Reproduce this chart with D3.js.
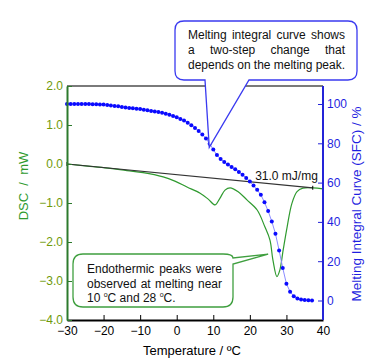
<!DOCTYPE html>
<html>
<head>
<meta charset="utf-8">
<script src="https://cdn.jsdelivr.net/npm/d3@7"></script>
<style>
  body { margin: 0; background: #fff; }
  svg { display: block; font-family: "Liberation Sans", Arial, sans-serif; }
</style>
</head>
<body>
<div id="graph"></div>
<script>
// DSC trace (green)
const dscTemp = [-30, -23.7, -18.2, -13.6, -9.2, -3.7, -0.5, 2.8, 6.4, 8.6, 10.5, 11.8, 13.2, 14.6, 16.8, 19.2, 22.0, 24.1, 25.5, 26.3, 27.4, 28.2, 29.1, 30.2, 31.5, 32.9, 34.5, 37.3, 40]
const dscValue = [0.0, -0.06, -0.11, -0.17, -0.22, -0.33, -0.44, -0.59, -0.75, -0.9, -1.05, -0.88, -0.67, -0.61, -0.71, -0.92, -1.18, -1.61, -1.95, -2.46, -2.89, -2.72, -2.21, -1.61, -1.01, -0.71, -0.62, -0.61, -0.64]

// melting integral curve (blue dots)
const sfcTemp = [-30, -29, -28, -27, -26, -25, -24, -23, -22, -21, -20, -19, -18, -17, -16, -15, -14, -13, -12, -11, -10, -9, -8, -7, -6, -5, -4, -3, -2, -1, 0, 1, 2, 3, 4, 5, 6, 7, 8, 9, 10, 11, 12, 13, 14, 15, 16, 17, 18, 19, 20, 21, 22, 23, 24, 25, 26, 27, 28, 29, 30, 31, 32, 33, 34, 35, 36, 37]
const sfcValue = [100, 100, 100, 100, 100, 100, 100, 99.9, 99.9, 99.8, 99.7, 99.5, 99.3, 99.0, 98.8, 98.5, 98.2, 98.0, 97.8, 97.6, 97.4, 97.1, 96.8, 96.5, 96.2, 95.9, 95.5, 95.0, 94.5, 93.9, 93.2, 92.4, 91.6, 90.5, 89.2, 87.8, 86.3, 84.5, 82.5, 79.8, 76.8, 74.0, 72.0, 70.5, 69.2, 68.0, 66.8, 65.4, 64.0, 62.4, 60.5, 58.5, 56.3, 53.8, 50.0, 45.5, 40.2, 34.0, 25.5, 16.5, 8.5, 4.5, 2.2, 1.0, 0.5, 0.2, 0.1, 0]

// integration baseline
const baseTemp = [-30, 37.2]
const baseValue = [0.0, -0.61]
const enthalpyLabel = "31.0 mJ/mg"

const xTicks = [-30, -20, -10, 0, 10, 20, 30, 40]
const yTicks = [-4, -3, -2, -1, 0, 1, 2]
const sfcTicks = [0, 20, 40, 60, 80, 100]

const topNote = ["Melting integral curve shows", "a two-step change that", "depends on the melting peak."]
const bottomNote = ["Endothermic peaks were", "observed at melting near"]

let dimensions = {
    width: 374,
    height: 362,
    margin: {
        top: 86,
        right: 51,
        bottom: 42,
        left: 67,
    },
}
dimensions.boundedWidth = dimensions.width
    - dimensions.margin.left
    - dimensions.margin.right
dimensions.boundedHeight = dimensions.height
    - dimensions.margin.top
    - dimensions.margin.bottom

const wrapper = d3.select("#graph")
    .append("svg")
    .attr("width", dimensions.width)
    .attr("height", dimensions.height)

const bounds = wrapper.append("g")
    .attr("transform", `translate(${dimensions.margin.left},${dimensions.margin.top})`)

// scales
const xScale = d3.scaleLinear()
    .domain([-30, 40])
    .range([0, dimensions.boundedWidth])
const yScale = d3.scaleLinear()
    .domain([-4, 2])
    .range([dimensions.boundedHeight, 0])
const sfcScale = d3.scaleLinear()
    .domain([0, 100])
    .range([214.5, 18])

const dsc = dscTemp.map((t, i) => ({ t, v: dscValue[i] }))
const sfc = sfcTemp.map((t, i) => ({ t, v: sfcValue[i] }))
const base = baseTemp.map((t, i) => ({ t, v: baseValue[i] }))

// top frame line
bounds.append("line")
    .attr("x1", 0).attr("x2", dimensions.boundedWidth)
    .attr("y1", 0).attr("y2", 0)
    .attr("stroke", "#7a7a7a")
    .attr("stroke-width", 2)

// DSC curve
const dscLine = d3.line()
    .x(d => xScale(d.t))
    .y(d => yScale(d.v))
    .curve(d3.curveCatmullRom.alpha(0.5))

bounds.append("path")
    .attr("d", dscLine(dsc))
    .attr("fill", "none")
    .attr("stroke", "#2f9a2f")
    .attr("stroke-width", 1.2)

// baseline
bounds.append("path")
    .attr("d", d3.line().x(d => xScale(d.t)).y(d => yScale(d.v))(base))
    .attr("fill", "none")
    .attr("stroke", "#333")
    .attr("stroke-width", 1.2)

bounds.selectAll(".baseTick")
    .data(base)
    .enter()
    .append("line")
    .attr("x1", d => xScale(d.t)).attr("x2", d => xScale(d.t))
    .attr("y1", d => yScale(d.v) - 2).attr("y2", d => yScale(d.v) + 2)
    .attr("stroke", "#000")
    .attr("stroke-width", 1)

bounds.append("text")
    .attr("x", xScale(38.6))
    .attr("y", yScale(-0.41))
    .attr("text-anchor", "end")
    .attr("font-size", "12px")
    .attr("fill", "#111")
    .text(enthalpyLabel)

// melting integral curve
bounds.append("path")
    .attr("d", d3.line().x(d => xScale(d.t)).y(d => sfcScale(d.v))(sfc))
    .attr("fill", "none")
    .attr("stroke", "#8c8cff")
    .attr("stroke-width", 1)

bounds.selectAll("circle")
    .data(sfc)
    .enter()
    .append("circle")
    .attr("cx", d => xScale(d.t))
    .attr("cy", d => sfcScale(d.v))
    .attr("r", 2)
    .attr("fill", "#0a0aff")

// axes
const xAxis = bounds.append("g")
    .attr("transform", `translate(0,${dimensions.boundedHeight})`)
    .call(d3.axisBottom(xScale).tickValues(xTicks).tickSizeInner(-5).tickSizeOuter(0).tickPadding(6))
xAxis.select(".domain").attr("stroke", "#000").attr("stroke-width", 2)
xAxis.selectAll(".tick line").attr("stroke", "#000")
xAxis.selectAll("text").attr("font-size", "12px").attr("fill", "#000").attr("font-family", null)

const yAxis = bounds.append("g")
    .call(d3.axisLeft(yScale).tickValues(yTicks).tickFormat(d3.format(".1f")).tickSizeInner(-5).tickSizeOuter(0).tickPadding(4))
yAxis.select(".domain").attr("stroke", "#2d7a2d").attr("stroke-width", 2)
yAxis.selectAll(".tick line").attr("stroke", "#2d7a2d")
yAxis.selectAll("text").attr("font-size", "12px").attr("fill", "#6f9a0a").attr("font-family", null)

const rightAxis = bounds.append("g")
    .attr("transform", `translate(${dimensions.boundedWidth},0)`)
    .call(d3.axisRight(sfcScale).tickValues(sfcTicks).tickSizeInner(-5).tickSizeOuter(0).tickPadding(4))
rightAxis.select(".domain").remove()
rightAxis.append("line")
    .attr("y1", 0).attr("y2", dimensions.boundedHeight)
    .attr("stroke", "#2424d8")
    .attr("stroke-width", 2)
rightAxis.selectAll(".tick line").attr("stroke", "#2424d8")
rightAxis.selectAll("text").attr("font-size", "12px").attr("fill", "#1f1fe0").attr("font-family", null)

// axis titles
wrapper.append("text")
    .attr("x", dimensions.margin.left + dimensions.boundedWidth / 2 - 3)
    .attr("y", 355)
    .attr("text-anchor", "middle")
    .attr("font-size", "13px")
    .attr("fill", "#000")
    .text("Temperature / ºC")

wrapper.append("text")
    .attr("transform", "translate(28,186) rotate(-90)")
    .attr("text-anchor", "middle")
    .attr("font-size", "13px")
    .attr("fill", "#2e9a2e")
    .style("white-space", "pre")
    .text("DSC  /  mW")

wrapper.append("text")
    .attr("transform", "translate(361,204) rotate(-90)")
    .attr("text-anchor", "middle")
    .attr("font-size", "13.5px")
    .attr("fill", "#1f1fe0")
    .text("Melting Integral Curve (SFC) / %")

// justified text helper
const justify = (g, lines, x0, x1, y0, lh) => {
    lines.forEach((line, li) => {
        const words = line.split(" ")
        const nodes = words.map(w => g.append("text")
            .attr("font-size", "12px")
            .attr("fill", "#111")
            .attr("y", y0 + li * lh)
            .text(w))
        const widths = nodes.map(n => n.node().getComputedTextLength())
        const gap = (x1 - x0 - d3.sum(widths)) / Math.max(words.length - 1, 1)
        let x = x0
        nodes.forEach((n, i) => {
            n.attr("x", x)
            x += widths[i] + gap
        })
    })
}

// top callout
const tip1 = [dimensions.margin.left + xScale(8.9), dimensions.margin.top + sfcScale(78)]
const b1 = { x0: 175, x1: 357, y0: 21, y1: 80, r: 9 }
const note1 = wrapper.append("g")
note1.append("path")
    .attr("d", `M${b1.x0 + b1.r},${b1.y0} H${b1.x1 - b1.r} Q${b1.x1},${b1.y0} ${b1.x1},${b1.y0 + b1.r}
        V${b1.y1 - b1.r} Q${b1.x1},${b1.y1} ${b1.x1 - b1.r},${b1.y1} H249
        L${tip1[0]},${tip1[1]} L205,${b1.y1} H${b1.x0 + b1.r}
        Q${b1.x0},${b1.y1} ${b1.x0},${b1.y1 - b1.r} V${b1.y0 + b1.r} Q${b1.x0},${b1.y0} ${b1.x0 + b1.r},${b1.y0} Z`)
    .attr("fill", "#fff")
    .attr("stroke", "#3a3af0")
    .attr("stroke-width", 1.3)
justify(note1, topNote, 188, 345, 39, 15)

// bottom callout
const tip2 = [dimensions.margin.left + xScale(25.0), dimensions.margin.top + yScale(-2.31)]
const b2 = { x0: 73, x1: 233, y0: 254, y1: 307, r: 10 }
const note2 = wrapper.append("g")
note2.append("path")
    .attr("d", `M${b2.x0 + b2.r},${b2.y0} H${b2.x1 - b2.r} Q${b2.x1},${b2.y0} ${b2.x1},${b2.y0 + 4}
        L${tip2[0]},${tip2[1]} L${b2.x1},${b2.y0 + 10}
        V${b2.y1 - b2.r} Q${b2.x1},${b2.y1} ${b2.x1 - b2.r},${b2.y1} H${b2.x0 + b2.r}
        Q${b2.x0},${b2.y1} ${b2.x0},${b2.y1 - b2.r} V${b2.y0 + b2.r} Q${b2.x0},${b2.y0} ${b2.x0 + b2.r},${b2.y0} Z`)
    .attr("fill", "#fff")
    .attr("stroke", "#3f9f3f")
    .attr("stroke-width", 1.3)
justify(note2, bottomNote, 87, 222, 273, 14.5)

const lastLine = note2.append("text")
    .attr("x", 87)
    .attr("y", 302)
    .attr("font-size", "12px")
    .attr("fill", "#111")
lastLine.append("tspan").text("10 ")
lastLine.append("tspan").attr("font-size", "7px").attr("dy", -5).text("o")
lastLine.append("tspan").attr("dy", 5).text("C and 28 ")
lastLine.append("tspan").attr("font-size", "7px").attr("dy", -5).text("o")
lastLine.append("tspan").attr("dy", 5).text("C.")
</script>
</body>
</html>
